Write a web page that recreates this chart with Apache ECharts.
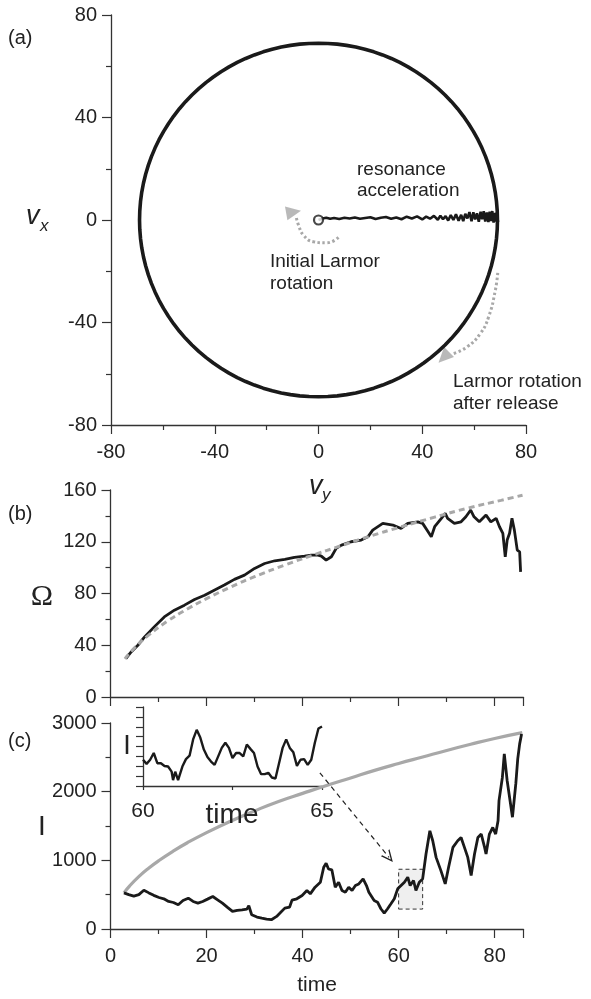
<!DOCTYPE html>
<html><head><meta charset="utf-8">
<script src="https://cdn.jsdelivr.net/npm/echarts@6/dist/echarts.min.js"></script>
<style>html,body{margin:0;padding:0;background:#fff}#c{width:591px;height:999px}</style>
</head><body><div id="c"></div>
<script>
// ---------- Panel (a) data ----------
const circleRadius = 69;
const trajVy = [0,1.5,3,4.5,6,8,10,12,14,16,18,20,22,24,26,28,30,32,34,36,38,40,41.5,43,44.5,46,47,48,49,50,51,52,53,54,55,55.8,56.6,57.4,58.2,59,59.7,60.4,61.1,61.8,62.5,63.1,63.7,64.3,64.9,65.5,66,66.5,67,67.5,68,68.4,68.8,69.2,69.0];
const trajVx = [0,0.6,0.9,0.5,0.8,0.4,0.9,0.6,1.0,0.5,0.8,1.1,0.4,0.9,1.2,0.5,1.0,0.3,1.3,0.6,1.4,0.2,1.3,0.5,1.6,0.1,1.7,0.3,1.5,-0.2,1.9,0.0,2.2,-0.3,2.0,-0.4,2.4,0.6,3.1,-0.5,3.0,0.2,2.6,-0.7,3.2,0.3,3.4,-0.6,2.9,-0.8,3.3,-0.4,3.5,-1.0,2.8,-0.6,3.0,-0.8,1.0];
const arc1Vy = [7.7,3.2,-1.9,-5.8,-7.7,-8.6];
const arc1Vx = [-6.8,-8.9,-8.5,-5.9,-2.0,1.2];
const arc2Vy = [69.1,68.2,65.6,62.4,57.3,52.1];
const arc2Vx = [-20.6,-27.3,-37.8,-44.3,-49.5,-52.1];
const arrowHeads = [[-9.6,3.1,-80],[48.3,-53.6,135]]; // [vy, vx, rotation]

// ---------- Panel (b) data ----------
const tOmega = [3.2,4.3,5.7,7.1,9.1,11.2,13.3,15.4,17.5,19.6,21.6,23.7,25.8,27.9,30,32.1,34.2,36.3,38.3,40.4,41.8,43.2,43.9,44.9,46,47,48.1,50.1,52.2,53.6,54.6,56.7,58.8,60.5,61.9,64,65,65.9,66.8,67.5,68.9,69.7,70.2,71.6,73,74,75,75.7,76.8,78.2,79.2,80.3,81,81.7,82.2,82.6,83.1,83.6,84.1,84.7,85.2,85.4];
const omega = [29.7,34.8,40,46.4,54.2,61.9,67.1,71,75.4,78.7,82.6,86.5,90.9,94.2,99.4,103.2,105.3,106.3,107.9,108.9,109.7,109.7,108.9,105.8,108.4,114.9,117.4,120,121.3,123.8,129,134.2,132.9,130.3,134.2,135.4,134.2,129,123.8,131.6,138.1,142,138.1,134.2,135.4,139.3,144.5,139.3,135.4,140.6,135.4,138.1,131.6,126.5,108.4,121.3,126.5,138.1,129,113.5,112.2,96.7];
const tOmegaFit = [3,5,8,12,16,20,25,30,36.3,43.2,46.7,53.6,60.5,67.5,74.4,81.3,85.8];
const omegaFit = [29.5,38,48,59,68,76,85,93,102,111,115.3,123.8,131.5,139,146,152,156];

// ---------- Panel (c) data ----------
const tI = [2.8,3.8,4.85,5.9,6.95,8,9,10.1,11.1,12.1,13.1,14.1,15.1,16.2,17.2,18.2,19.2,20.2,21.3,22.3,23.3,24.3,25.4,26.4,27.4,28.4,28.8,29.4,30.5,31.5,32.5,33.5,33.9,34.6,35.3,36.3,37.3,37.8,38.8,39.9,40.9,41.6,42.6,43.7,44.4,44.9,45.4,46.1,46.8,47.5,48.2,48.9,49.6,50.3,51,51.7,52.6,53.3,53.8,54.9,55.6,56.3,57,57.7,58.4,59.1,59.8,60.5,61.2,61.9,62.4,63.1,63.6,64.3,65,65.7,66.5,67.1,67.8,68.8,69.7,70.4,71.3,72.3,73,73.7,74.4,75.1,75.8,76.5,77.2,77.9,78.2,78.9,79.6,80.2,80.7,80.9,81.6,82,82.6,83.7,84.4,84.8,85.2,85.6];
const valI = [526,500,478,500,565,526,490,459,440,401,386,353,415,449,401,377,401,435,473,425,377,319,256,271,280,290,338,208,174,159,145,135,111,183,232,304,320,420,440,488,560,512,609,681,899,957,874,860,609,681,560,536,609,560,633,657,730,633,536,415,391,295,232,295,367,440,585,633,681,754,633,706,560,681,730,1092,1430,1285,1043,850,657,899,1188,1285,1333,1188,1043,778,1092,1333,1382,1188,1092,1382,1478,1382,1575,1870,2207,2550,2159,1628,2116,2478,2696,2841];
const tIFit = [2.8,4,6,8,10,13,16,20,25,30,35,40,45,50,55,60,65,70,75,80,85.75];
const valIFit = [526,628,769,888,993,1132,1256,1404,1570,1720,1858,1975,2090,2200,2310,2410,2505,2600,2690,2775,2860];
const zoomBox = [60,65,290,870];      // t0, t1, I0, I1
const zoomArrow = [43.6,2275,58,1043]; // from (t, I) to (t, I)

// ---------- Inset data ----------
const tInset = [60,60.1,60.2,60.3,60.4,60.5,60.6,60.7,60.8,60.84,60.9,60.98,61.1,61.2,61.3,61.4,61.5,61.55,61.6,61.7,61.8,61.9,62,62.1,62.2,62.3,62.35,62.4,62.5,62.6,62.7,62.8,62.9,63,63.1,63.2,63.3,63.4,63.5,63.6,63.7,63.8,63.9,64,64.1,64.2,64.3,64.4,64.5,64.6,64.7,64.8,64.9,65];
const valInset = [2.66,2.24,2.66,3.34,2.31,2.31,2.03,1.97,1.45,0.59,1.45,0.59,1.97,2.72,3.07,4.72,5.69,5.69,4.9,3.69,2.93,2.48,2.14,3.0,3.86,4.38,4.55,3.86,2.83,3.34,3.34,3.0,4.2,3.76,3.34,1.97,1.2,1.2,1.34,0.86,0.76,2.31,3.86,4.72,3.86,3.41,2.03,2.66,2.72,2.14,2.66,4.38,5.83,6.03];

const BLACK = '#1a1a1a', GRAY = '#a8a8a8', AX = '#333', TXT = '#222';
const FONT = 'Liberation Sans';

function zip(a, b) { return a.map((v, i) => [v, b[i]]); }
const circlePts = [];
for (let d = 0; d <= 360; d += 3) {
  const r = d * Math.PI / 180;
  circlePts.push([circleRadius * Math.cos(r), circleRadius * Math.sin(r)]);
}

const plain = v => String(v);
function labelStyle(extra) {
  return Object.assign({ fontSize: 20, color: TXT, fontFamily: FONT, margin: 14, formatter: plain }, extra || {});
}
function axisBase(extra) {
  return Object.assign({
    type: 'value',
    splitLine: { show: false },
    axisLine: { show: true, onZero: false, lineStyle: { color: AX, width: 1.3 } },
    axisTick: { show: true, length: 9, lineStyle: { color: AX, width: 1.2 } },
    minorTick: { show: true, splitNumber: 2, length: 5, lineStyle: { color: AX, width: 1.2 } },
    axisLabel: labelStyle()
  }, extra);
}

const chart = echarts.init(document.getElementById('c'), null, { renderer: 'canvas' });

function txt(x, y, text, size, opts) {
  opts = opts || {};
  return {
    type: 'text', x: x, y: y, silent: true, z: 100,
    style: {
      text: text, fill: TXT,
      font: (opts.style || '') + ' ' + size + 'px ' + (opts.family || FONT),
      textAlign: opts.align || 'left', textVerticalAlign: 'middle'
    }
  };
}

const option = {
  animation: false,
  backgroundColor: '#fff',
  grid: [
    { left: 111, top: 15, width: 415, height: 410 },
    { left: 110.5, top: 490, width: 413, height: 207 },
    { left: 110.5, top: 723, width: 413, height: 206 },
    { left: 143, top: 707, width: 179, height: 79 }
  ],
  xAxis: [
    axisBase({ gridIndex: 0, min: -80, max: 80, interval: 40, axisLabel: labelStyle({ margin: 17 }) }),
    axisBase({ gridIndex: 1, min: 0, max: 86, interval: 20, axisLabel: { show: false } }),
    axisBase({ gridIndex: 2, min: 0, max: 86, interval: 20, axisLabel: labelStyle({ margin: 17, showMaxLabel: false }) }),
    axisBase({ gridIndex: 3, min: 60, max: 65, interval: 2.5, minorTick: { show: false },
      axisTick: { show: true, length: 4, lineStyle: { color: AX, width: 1.2 } },
      axisLabel: labelStyle({ fontSize: 21, margin: 15,
        formatter: v => (v === 60 || v === 65) ? String(v) : '' }) })
  ],
  yAxis: [
    axisBase({ gridIndex: 0, min: -80, max: 80, interval: 40 }),
    axisBase({ gridIndex: 1, min: 0, max: 160, interval: 40 }),
    axisBase({ gridIndex: 2, min: 0, max: 3000, interval: 1000 }),
    axisBase({ gridIndex: 3, min: 0, max: 8, interval: 1, minorTick: { show: false },
      axisTick: { show: true, length: 7, lineStyle: { color: AX, width: 1.2 } },
      axisLabel: { show: false } })
  ],
  series: [
    // panel a
    { type: 'line', xAxisIndex: 0, yAxisIndex: 0, data: circlePts, showSymbol: false, smooth: false,
      lineStyle: { color: BLACK, width: 3.6 }, silent: true },
    { type: 'line', xAxisIndex: 0, yAxisIndex: 0, data: zip(trajVy, trajVx), showSymbol: false,
      lineStyle: { color: BLACK, width: 2.6 }, silent: true },
    { type: 'scatter', xAxisIndex: 0, yAxisIndex: 0, data: [[trajVy[0], trajVx[0]]], symbol: 'circle', symbolSize: 9,
      itemStyle: { color: '#fff', borderColor: BLACK, borderWidth: 2.2 }, silent: true, z: 5 },
    { type: 'line', xAxisIndex: 0, yAxisIndex: 0, data: zip(arc1Vy, arc1Vx), showSymbol: false, smooth: true,
      lineStyle: { color: GRAY, width: 3, type: [2.5, 2.5] }, silent: true },
    { type: 'line', xAxisIndex: 0, yAxisIndex: 0, data: zip(arc2Vy, arc2Vx), showSymbol: false, smooth: true,
      lineStyle: { color: GRAY, width: 3, type: [2.5, 2.5] }, silent: true },
    { type: 'scatter', xAxisIndex: 0, yAxisIndex: 0, symbol: 'triangle', symbolSize: [14, 15],
      data: arrowHeads.map(a => ({ value: [a[0], a[1]], symbolRotate: a[2] })),
      itemStyle: { color: GRAY }, silent: true },
    // panel b
    { type: 'line', xAxisIndex: 1, yAxisIndex: 1, data: zip(tOmega, omega), showSymbol: false,
      lineStyle: { color: BLACK, width: 2.8 }, silent: true },
    { type: 'line', xAxisIndex: 1, yAxisIndex: 1, data: zip(tOmegaFit, omegaFit), showSymbol: false, smooth: true,
      lineStyle: { color: GRAY, width: 3, type: [6, 4] }, silent: true, z: 3 },
    // panel c
    { type: 'line', xAxisIndex: 2, yAxisIndex: 2, data: zip(tIFit, valIFit), showSymbol: false, smooth: true,
      lineStyle: { color: GRAY, width: 3.2 }, silent: true },
    { type: 'line', xAxisIndex: 2, yAxisIndex: 2, data: zip(tI, valI), showSymbol: false,
      lineStyle: { color: BLACK, width: 2.8 }, silent: true, z: 4,
      markArea: { silent: true,
        itemStyle: { color: '#efefef', borderColor: '#333', borderWidth: 1, borderType: [4, 3] },
        data: [[{ coord: [zoomBox[0], zoomBox[2]] }, { coord: [zoomBox[1], zoomBox[3]] }]] },
      markLine: { silent: true, animation: false,
        symbol: ['none', 'path://M0,12 L6,0 L12,12 L10.4,12 L6,3.2 L1.6,12 Z'], symbolSize: [11, 12],
        label: { show: false },
        lineStyle: { color: '#222', width: 1.2, type: [5, 4] },
        data: [[{ coord: [zoomArrow[0], zoomArrow[1]] }, { coord: [zoomArrow[2], zoomArrow[3]] }]] } },
    // inset
    { type: 'line', xAxisIndex: 3, yAxisIndex: 3, data: zip(tInset, valInset), showSymbol: false,
      lineStyle: { color: BLACK, width: 2.4 }, silent: true }
  ],
  graphic: [
    txt(8, 38, '(a)', 20),
    txt(8, 514, '(b)', 20),
    txt(8, 741, '(c)', 20),
    txt(26, 216, 'v', 27, { style: 'italic' }),
    txt(40, 226, 'x', 17, { style: 'italic' }),
    txt(309, 486, 'v', 27, { style: 'italic' }),
    txt(322, 495, 'y', 17, { style: 'italic' }),
    txt(42, 597, 'Ω', 30, { align: 'center', family: 'Liberation Serif' }),
    txt(42, 827, 'I', 28, { align: 'center' }),
    txt(127, 747, 'I', 27, { align: 'center' }),
    txt(232, 815, 'time', 28, { align: 'center' }),
    txt(317, 985, 'time', 21, { align: 'center' }),
    txt(357, 170, 'resonance', 19),
    txt(357, 191, 'acceleration', 19),
    txt(270, 262, 'Initial Larmor', 19),
    txt(270, 284, 'rotation', 19),
    txt(453, 382, 'Larmor rotation', 19),
    txt(453, 404, 'after release', 19)
  ]
};
chart.setOption(option);
</script></body></html>
